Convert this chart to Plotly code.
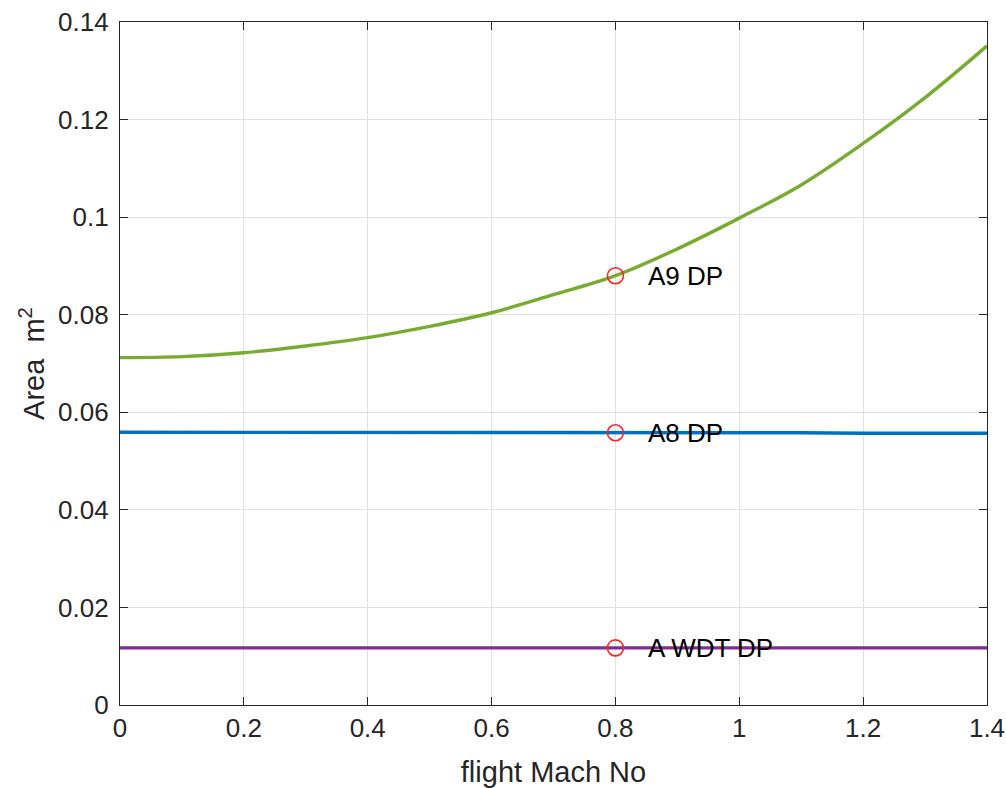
import plotly.graph_objects as go

# Flight Mach number sweep
mach = [0.0, 0.1, 0.2, 0.3, 0.4, 0.5, 0.6, 0.7, 0.8, 0.9, 1.0, 1.1, 1.2, 1.3, 1.4]

# Nozzle areas (m^2) versus flight Mach number
a9_area = [0.0712, 0.0714, 0.0722, 0.0736, 0.0753, 0.0776, 0.0804, 0.0841, 0.0880,
           0.0935, 0.0998, 0.1066, 0.1151, 0.1245, 0.1351]
a8_area = [0.0559, 0.0559, 0.0559, 0.0559, 0.0559, 0.0558, 0.0558, 0.0558, 0.0558,
           0.0558, 0.0558, 0.0558, 0.0557, 0.0557, 0.0557]
awdt_area = [0.0117, 0.0117, 0.0117, 0.0117, 0.0117, 0.0117, 0.0117, 0.0117, 0.0117,
             0.0117, 0.0117, 0.0117, 0.0117, 0.0117, 0.0117]

# Design point
dp_mach = 0.8
dp_labels = ["A9 DP", "A8 DP", "A WDT DP"]
dp_values = [0.0880, 0.0558, 0.0117]

x_ticks = [0, 0.2, 0.4, 0.6, 0.8, 1.0, 1.2, 1.4]
x_tick_text = ["0", "0.2", "0.4", "0.6", "0.8", "1", "1.2", "1.4"]
y_ticks = [0, 0.02, 0.04, 0.06, 0.08, 0.1, 0.12, 0.14]
y_tick_text = ["0", "0.02", "0.04", "0.06", "0.08", "0.1", "0.12", "0.14"]

FONT = "Liberation Sans, Arial, Helvetica, sans-serif"
INK = "#262626"

fig = go.Figure()

curves = [
    (a9_area, "#77AC30", "spline"),
    (a8_area, "#0072BD", "linear"),
    (awdt_area, "#7E2F8E", "linear"),
]
for ys, col, shp in curves:
    fig.add_trace(go.Scatter(x=mach, y=ys, mode="lines",
                             line=dict(color=col, width=3.4, shape=shp),
                             showlegend=False, hoverinfo="skip"))

fig.add_trace(go.Scatter(
    x=[dp_mach] * len(dp_values), y=dp_values, mode="markers",
    marker=dict(symbol="circle-open", size=16, color="#FF2020",
                line=dict(width=1.6, color="#FF2020")),
    showlegend=False, hoverinfo="skip"))

for lab, val in zip(dp_labels, dp_values):
    fig.add_annotation(x=dp_mach + 0.05, y=val, text=lab, showarrow=False,
                       xanchor="left", yanchor="middle",
                       font=dict(family=FONT, size=26, color="#000000"))

axis_common = dict(
    showline=True, linecolor=INK, linewidth=1.3, mirror="ticks",
    ticks="inside", ticklen=8, tickwidth=1.3, tickcolor=INK,
    showgrid=True, gridcolor="#e1e1e1", gridwidth=1,
    zeroline=False, automargin=False,
    tickfont=dict(family=FONT, size=26, color=INK),
)

fig.update_xaxes(range=[0, 1.4], tickvals=x_ticks, ticktext=x_tick_text,
                 title=dict(text="flight Mach No",
                            font=dict(family=FONT, size=29, color=INK), standoff=20),
                 **axis_common)
fig.update_yaxes(range=[0, 0.14], tickvals=y_ticks, ticktext=y_tick_text,
                 ticklabelstandoff=5,
                 title=dict(text="Area  m<sup>2</sup>",
                            font=dict(family=FONT, size=29, color=INK), standoff=4),
                 **axis_common)

fig.update_layout(
    width=1006, height=788,
    margin=dict(l=120, r=19, t=22, b=83),
    paper_bgcolor="#FFFFFF", plot_bgcolor="#FFFFFF",
)

fig.write_html("out.html")
